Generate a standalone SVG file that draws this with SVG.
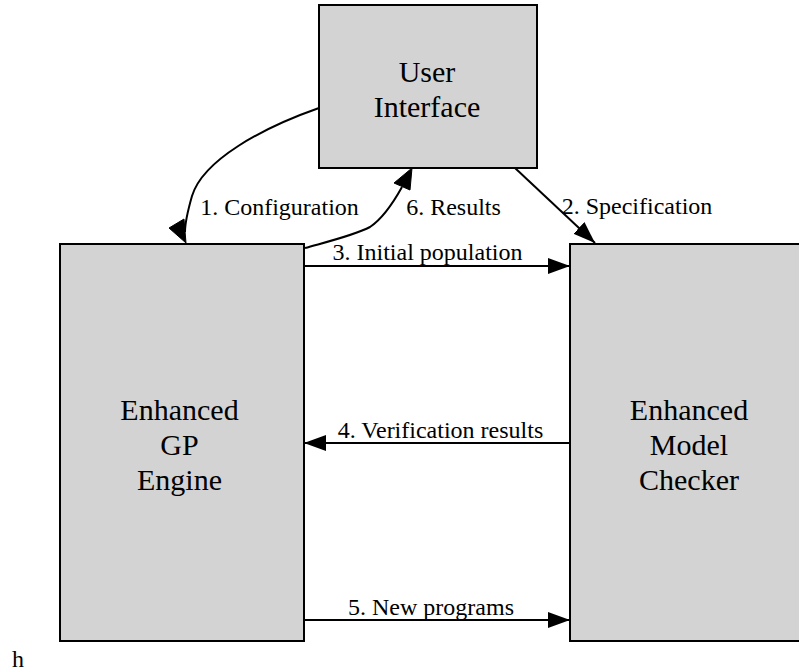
<svg xmlns="http://www.w3.org/2000/svg" width="799" height="672" viewBox="0 0 799 672">
  <style>
    .box { fill: #d3d3d3; stroke: #000; stroke-width: 2; }
    .edge { fill: none; stroke: #000; stroke-width: 2; }
    .head { fill: #000; stroke: #000; stroke-width: 1; }
    .node-label { font-family: "Liberation Serif", "Times New Roman", serif; font-size: 30px; text-anchor: middle; fill: #000; }
    .edge-label { font-family: "Liberation Serif", "Times New Roman", serif; font-size: 24px; text-anchor: middle; fill: #000; }
  </style>
  <defs>
    <marker id="arrow" viewBox="0 0 22 16" refX="22" refY="8" markerWidth="22" markerHeight="16" markerUnits="userSpaceOnUse" orient="auto">
      <path d="M0,0 L22,8 L0,16 Z" fill="#000"/>
    </marker>
  </defs>

  <rect width="799" height="672" fill="#fff"/>

  <!-- nodes -->
  <g id="user-interface">
    <rect class="box" x="319" y="5" width="218" height="163"/>
    <text class="node-label" x="427" y="82">User</text>
    <text class="node-label" x="427" y="117">Interface</text>
  </g>

  <g id="gp-engine">
    <rect class="box" x="60" y="244" width="244" height="397"/>
    <text class="node-label" x="179.5" y="420">Enhanced</text>
    <text class="node-label" x="179.5" y="455">GP</text>
    <text class="node-label" x="179.5" y="490">Engine</text>
  </g>

  <g id="model-checker">
    <rect class="box" x="570" y="244" width="250" height="397"/>
    <text class="node-label" x="689" y="420">Enhanced</text>
    <text class="node-label" x="689" y="455">Model</text>
    <text class="node-label" x="689" y="490">Checker</text>
  </g>

  <!-- connectors -->
  <g id="edges">
    <!-- 1. Configuration: User Interface -> GP Engine -->
    <path class="edge" d="M319,108 C262,128 203,160 192,196 C188,210 185,222 185,232"/>
    <polygon class="head" points="169,228 184,219 186,243"/>
    <text class="edge-label" x="279.5" y="215">1. Configuration</text>

    <!-- 6. Results: GP Engine -> User Interface -->
    <path class="edge" d="M305,248 C330,241 355,235 370,227 C382,219 392,205 402,187"/>
    <polygon class="head" points="394,183 410,190 412,168"/>
    <text class="edge-label" x="453.5" y="215">6. Results</text>

    <!-- 2. Specification: User Interface -> Model Checker -->
    <path class="edge" d="M515,168 L595,243" marker-end="url(#arrow)"/>
    <text class="edge-label" x="637" y="214">2. Specification</text>

    <!-- 3. Initial population -->
    <path class="edge" d="M304,266 L570,266" marker-end="url(#arrow)"/>
    <text class="edge-label" x="427.5" y="260">3. Initial population</text>

    <!-- 4. Verification results -->
    <path class="edge" d="M570,443 L304,443" marker-end="url(#arrow)"/>
    <text class="edge-label" x="440.5" y="438">4. Verification results</text>

    <!-- 5. New programs -->
    <path class="edge" d="M304,620 L570,620" marker-end="url(#arrow)"/>
    <text class="edge-label" x="431" y="615">5. New programs</text>
  </g>

  <text font-family="Liberation Serif, serif" font-size="24" x="12" y="667">h</text>
</svg>
